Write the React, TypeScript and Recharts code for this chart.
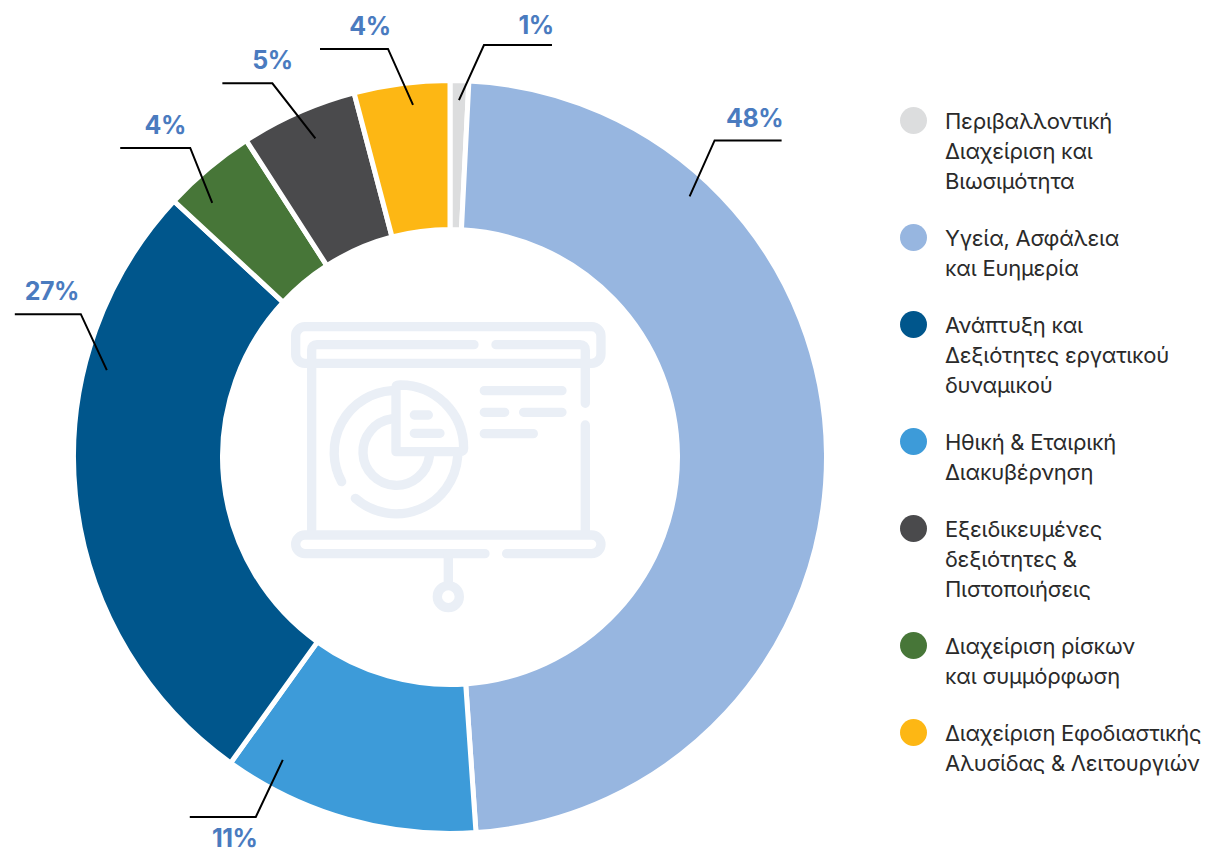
import React from 'react';
import { PieChart, Pie, Legend } from 'recharts';

const categories = [
  'Περιβαλλοντική\nΔιαχείριση και\nΒιωσιμότητα',
  'Υγεία, Ασφάλεια\nκαι Ευημερία',
  'Ηθική & Εταιρική\nΔιακυβέρνηση',
  'Ανάπτυξη και\nΔεξιότητες εργατικού\nδυναμικού',
  'Διαχείριση ρίσκων\nκαι συμμόρφωση',
  'Εξειδικευμένες\nδεξιότητες &\nΠιστοποιήσεις',
  'Διαχείριση Εφοδιαστικής\nΑλυσίδας & Λειτουργιών',
];
const shares = [0.8, 48.1, 11, 27, 4, 5, 4.1];
const colors = ['#DCDDDE', '#97B6E0', '#3D9BD9', '#00568C', '#477638', '#4A4A4C', '#FDB714'];
const legendOrder = [
  'Περιβαλλοντική\nΔιαχείριση και\nΒιωσιμότητα',
  'Υγεία, Ασφάλεια\nκαι Ευημερία',
  'Ανάπτυξη και\nΔεξιότητες εργατικού\nδυναμικού',
  'Ηθική & Εταιρική\nΔιακυβέρνηση',
  'Εξειδικευμένες\nδεξιότητες &\nΠιστοποιήσεις',
  'Διαχείριση ρίσκων\nκαι συμμόρφωση',
  'Διαχείριση Εφοδιαστικής\nΑλυσίδας & Λειτουργιών',
];

const rows = categories.map((name, i) => ({ name, value: shares[i], fill: colors[i] }));

// Leader-line styling per slice: offset from mid-angle, anchor radius, elbow offset, run, label offset
const leaders = [
  { da: 0, r: 357, ex: 25, ey: -55, run: 68, lx: 52, ly: -20 },
  { da: 46.86, r: 354, ex: 25, ey: -56, run: 67, lx: 40, ly: -22 },
  { da: -13.06, r: 346, ex: -27, ey: 57, run: -66, lx: -21, ly: 21 },
  { da: -19.96, r: 354, ex: -26, ey: -56, run: -66, lx: -29, ly: -23 },
  { da: 3.14, r: 348, ex: -22, ey: -55, run: -70, lx: -25, ly: -23 },
  { da: -0.86, r: 346, ex: -43, ey: -55, run: -50, lx: 0, ly: -23 },
  { da: -1.38, r: 354, ex: -25, ey: -56, run: -68, lx: -18, ly: -23 },
];

const renderLabel = (p: any) => {
  const L = leaders[p.index];
  const a = ((p.midAngle + L.da) * Math.PI) / 180;
  const x0 = p.cx + L.r * Math.cos(a);
  const y0 = p.cy - L.r * Math.sin(a);
  const x1 = x0 + L.ex;
  const y1 = y0 + L.ey;
  const x2 = x1 + L.run;
  return (
    <g>
      <polyline points={`${x0},${y0} ${x1},${y1} ${x2},${y1}`} fill="none" stroke="#000" strokeWidth={2} />
      <text
        x={x1 + L.lx}
        y={y1 + L.ly}
        textAnchor="middle"
        dominantBaseline="central"
        fill="#4A7BBF"
        fontFamily="Inter, sans-serif"
        fontWeight={700}
        fontSize={25}
        letterSpacing={-0.5}
      >
        {Math.round(p.value)}%
      </text>
    </g>
  );
};

const renderLegend = (props: any) => {
  const items = [...props.payload].sort(
    (a: any, b: any) => legendOrder.indexOf(a.value) - legendOrder.indexOf(b.value),
  );
  return (
    <div style={{ fontFamily: 'Inter, sans-serif', fontSize: 22, lineHeight: '29.8px', color: '#2A2A2A', letterSpacing: -0.25 }}>
      {items.map((item: any) => (
        <div key={item.value} style={{ display: 'flex', marginBottom: 27.5 }}>
          <span
            style={{
              flex: 'none',
              width: 27,
              height: 27,
              borderRadius: '50%',
              background: item.color,
              marginRight: 18,
            }}
          />
          <span style={{ whiteSpace: 'pre' }}>{item.value}</span>
        </div>
      ))}
    </div>
  );
};

const PresentationIcon = () => (
  <g
    transform="translate(270,300) scale(0.3333)"
    fill="none"
    stroke="#EAEFF6"
    strokeWidth={28}
    strokeLinecap="round"
    strokeLinejoin="round"
  >
    <rect x={77} y={80} width={916} height={110} rx={28} />
    <path d="M125,190 V150 Q125,134 141,134 H612" />
    <path d="M678,134 H930 Q946,134 946,150 V310" />
    <path d="M946,375 V700" />
    <path d="M125,190 V700" />
    <path d="M645,761 H105 A28,28 0 0 1 105,705 H965 A28,28 0 0 1 965,761 H710" />
    <path d="M535,761 V855" />
    <circle cx={535} cy={890} r={33} />
    <path d="M378,262 Q378,255 390,255 A190,190 0 0 1 581,445 Q581,455 570,455 H378 Z" />
    <path d="M215,545 A185,185 0 0 1 365,272" />
    <path d="M256,595 A185,185 0 0 0 563,470" />
    <path d="M365,357 A100,100 0 1 0 478,470" />
    <path d="M433,345 H475 M433,400 H510 M643,272 H876 M643,337 H704 M761,337 H876 M643,401 H790" />
  </g>
);

export default function App() {
  return (
    <div style={{ position: 'absolute', left: 0, top: 0, width: 1205, height: 851, background: '#fff', overflow: 'hidden' }}>
      <PieChart width={1205} height={851} margin={{ top: 0, right: 0, bottom: 0, left: 0 }}>
        <PresentationIcon />
        <Pie
          data={rows}
          dataKey="value"
          nameKey="name"
          cx={450}
          cy={457}
          innerRadius={227.5}
          outerRadius={376.5}
          startAngle={90}
          endAngle={-270}
          stroke="#FFFFFF"
          strokeWidth={5}
          label={renderLabel}
          labelLine={false}
          isAnimationActive={false}
        />
        <Legend
          content={renderLegend}
          layout="vertical"
          wrapperStyle={{ position: 'absolute', left: 900, top: 107, width: 305, bottom: 'auto', right: 'auto' }}
        />
      </PieChart>
    </div>
  );
}
